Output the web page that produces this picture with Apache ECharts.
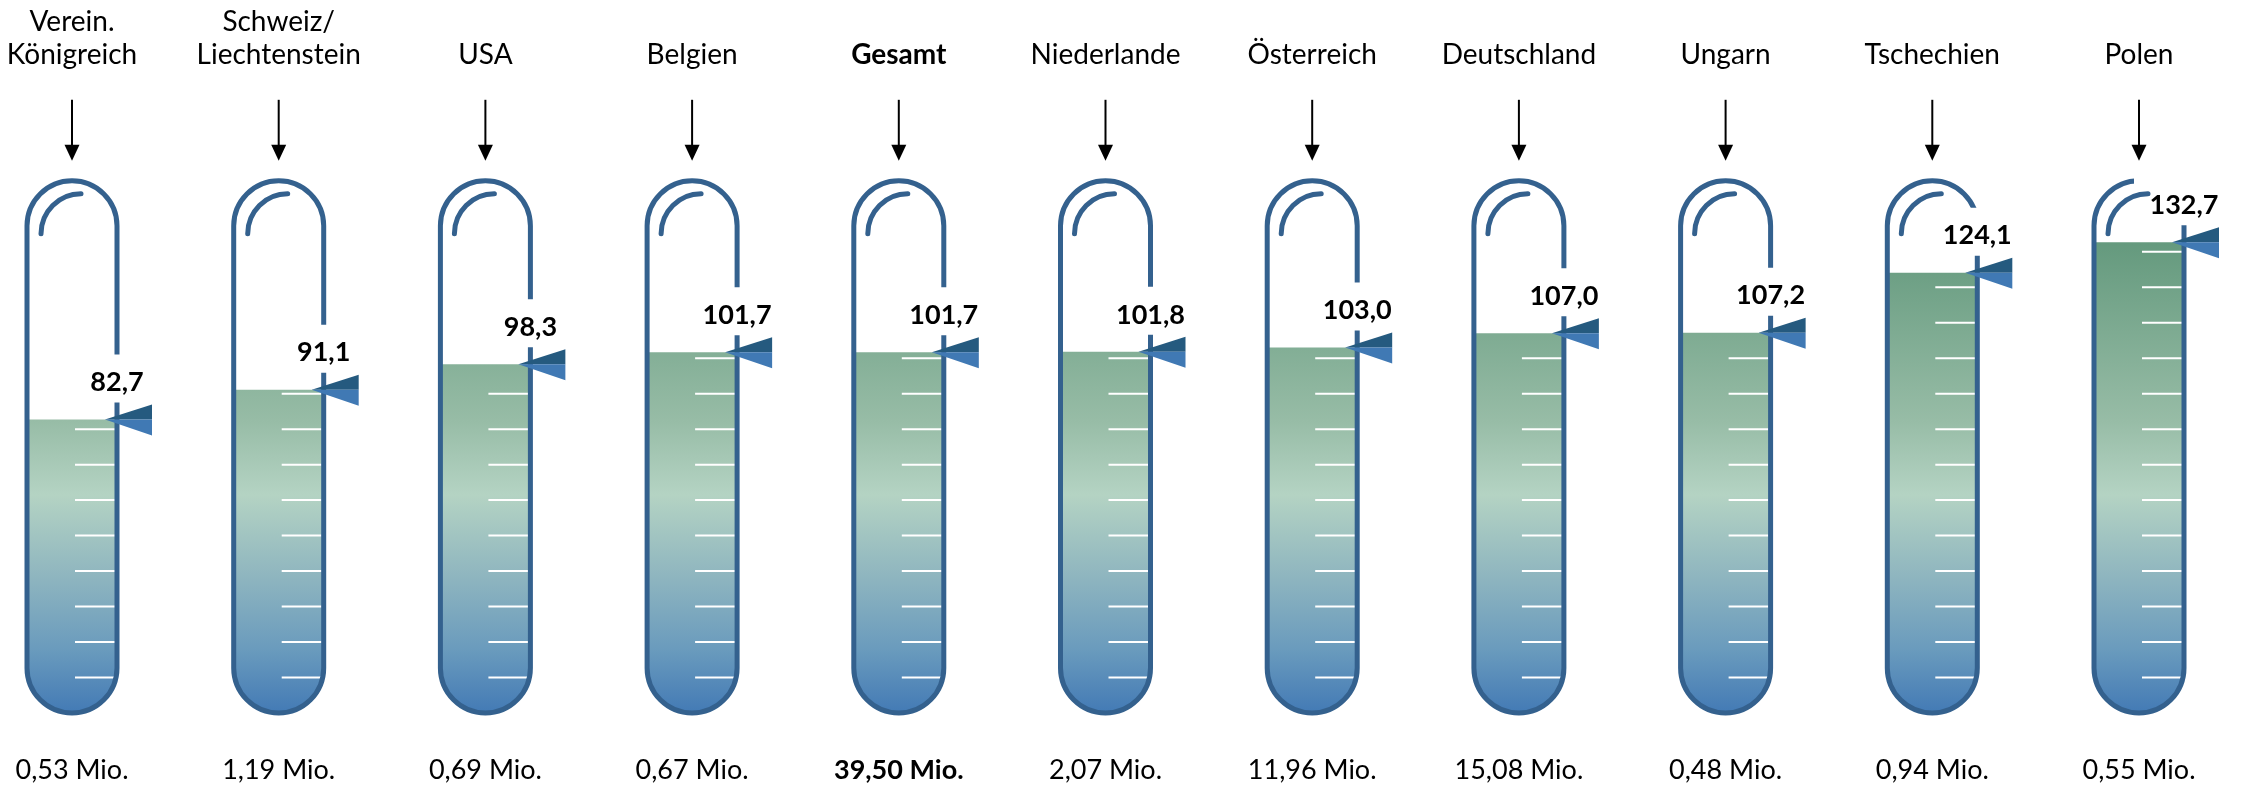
<!DOCTYPE html>
<html>
<head>
<meta charset="utf-8">
<script src="https://cdn.jsdelivr.net/npm/echarts@6/dist/echarts.min.js"></script>
<style>
html,body{margin:0;padding:0;background:#fff;}
#chart{width:2247px;height:787px;}
</style>
</head>
<body>
<div id="chart"></div>
<script>
// ---- data ----
var categories = ['Verein.\nKönigreich', 'Schweiz/\nLiechtenstein', 'USA', 'Belgien', 'Gesamt', 'Niederlande', 'Österreich', 'Deutschland', 'Ungarn', 'Tschechien', 'Polen'];
var values = [82.7, 91.1, 98.3, 101.7, 101.7, 101.8, 103.0, 107.0, 107.2, 124.1, 132.7];
var populations = ['0,53 Mio.', '1,19 Mio.', '0,69 Mio.', '0,67 Mio.', '39,50 Mio.', '2,07 Mio.', '11,96 Mio.', '15,08 Mio.', '0,48 Mio.', '0,94 Mio.', '0,55 Mio.'];
var highlightCategory = 'Gesamt';
var scaleMax = 150;
var tickStep = 10;

var FONT = 'Lato, "Open Sans", sans-serif';
var highlightIndex = categories.indexOf(highlightCategory);

var chart = echarts.init(document.getElementById('chart'));

function fmt(v){ return v.toFixed(1).replace('.', ','); }

var gradStops = [
  {offset: 0, color: '#588c6f'},
  {offset: 0.12, color: '#659a7e'},
  {offset: 0.45, color: '#97bca6'},
  {offset: 0.59, color: '#b4d3c3'},
  {offset: 0.75, color: '#8db4bf'},
  {offset: 0.88, color: '#6a9bbd'},
  {offset: 1, color: '#437ab5'}
];

function renderItem(params, api){
  var i = api.value(0), v = api.value(1);
  var base = api.coord([i, 0]);
  var topP = api.coord([i, scaleMax]);
  var lvlP = api.coord([i, v]);
  var cx = base[0], y0 = base[1], yT = topP[1], yL = lvlP[1];
  var R = 45;
  var tubeColor = '#34618e';
  var ch = [];
  // fill
  ch.push({
    type: 'path',
    shape: {pathData: 'M' + (cx-R) + ' ' + yL + ' L' + (cx+R) + ' ' + yL + ' L' + (cx+R) + ' ' + (y0-R) +
      ' A' + R + ' ' + R + ' 0 0 1 ' + (cx-R) + ' ' + (y0-R) + ' Z'},
    style: {fill: {type: 'linear', x: 0, y: yT, x2: 0, y2: y0, global: true, colorStops: gradStops}, stroke: null}
  });
  // ticks
  for (var t = tickStep; t < v; t += tickStep) {
    var ty = api.coord([i, t])[1];
    ch.push({type: 'line', shape: {x1: cx+3, y1: ty, x2: cx+R-2, y2: ty}, style: {stroke: '#ffffff', lineWidth: 2}});
  }
  // tube outline
  ch.push({
    type: 'path',
    shape: {pathData: 'M' + (cx-R) + ' ' + (y0-R) + ' L' + (cx-R) + ' ' + (yT+R) +
      ' A' + R + ' ' + R + ' 0 0 1 ' + (cx+R) + ' ' + (yT+R) +
      ' L' + (cx+R) + ' ' + (y0-R) +
      ' A' + R + ' ' + R + ' 0 0 1 ' + (cx-R) + ' ' + (y0-R) + ' Z'},
    style: {fill: null, stroke: tubeColor, lineWidth: 5}
  });
  // mask behind value label
  ch.push({type: 'rect', shape: {x: cx-5, y: yL-65, width: 95, height: 48}, style: {fill: '#ffffff'}});
  // highlight arc
  ch.push({
    type: 'arc',
    shape: {cx: cx+9, cy: yT+53, r: 40, startAngle: Math.PI, endAngle: Math.PI*1.5},
    style: {fill: null, stroke: tubeColor, lineWidth: 5, lineCap: 'round'}
  });
  // value label
  ch.push({
    type: 'text',
    style: {text: fmt(v), x: cx+45, y: yL-37, align: 'center', verticalAlign: 'middle',
      font: 'bold 27px ' + FONT, fill: '#000'}
  });
  // pointer triangle
  ch.push({type: 'polygon', shape: {points: [[cx+33, yL], [cx+80, yL-15], [cx+80, yL]]}, style: {fill: '#255a7f'}});
  ch.push({type: 'polygon', shape: {points: [[cx+33, yL], [cx+80, yL], [cx+80, yL+16]]}, style: {fill: '#4079b4'}});
  // arrow above
  ch.push({type: 'line', shape: {x1: cx, y1: yT-81, x2: cx, y2: yT-34}, style: {stroke: '#000', lineWidth: 2}});
  ch.push({type: 'polygon', shape: {points: [[cx-7.5, yT-36], [cx+7.5, yT-36], [cx, yT-20]]}, style: {fill: '#000'}});
  return {type: 'group', children: ch};
}

var option = {
  backgroundColor: '#ffffff',
  animation: false,
  grid: {left: 72, right: 108, top: 180.8, bottom: 72.6},
  xAxis: [
    {
      type: 'category', data: categories, position: 'top', boundaryGap: false,
      axisLine: {show: false}, axisTick: {show: false}, splitLine: {show: false},
      axisLabel: {
        interval: 0, margin: 109, fontSize: 28, lineHeight: 33, fontFamily: FONT, color: '#000',
        formatter: function(val){ return val === highlightCategory ? '{b|' + val + '}' : val; },
        rich: {b: {fontWeight: 'bold', fontSize: 28, lineHeight: 33, fontFamily: FONT, color: '#000'}}
      }
    },
    {
      type: 'category', data: populations, position: 'bottom', boundaryGap: false,
      axisLine: {show: false}, axisTick: {show: false}, splitLine: {show: false},
      axisLabel: {
        interval: 0, margin: 41, fontSize: 27, lineHeight: 33, fontFamily: FONT, color: '#000',
        formatter: function(val, idx){ return idx === highlightIndex ? '{b|' + val + '}' : val; },
        rich: {b: {fontWeight: 'bold', fontSize: 27, lineHeight: 33, fontFamily: FONT, color: '#000'}}
      }
    }
  ],
  yAxis: {type: 'value', min: 0, max: scaleMax, show: false, splitLine: {show: false}},
  series: [{
    type: 'custom',
    xAxisIndex: 0,
    clip: false,
    renderItem: renderItem,
    data: values.map(function(v, i){ return [i, v]; })
  }]
};
chart.setOption(option);
</script>
</body>
</html>
